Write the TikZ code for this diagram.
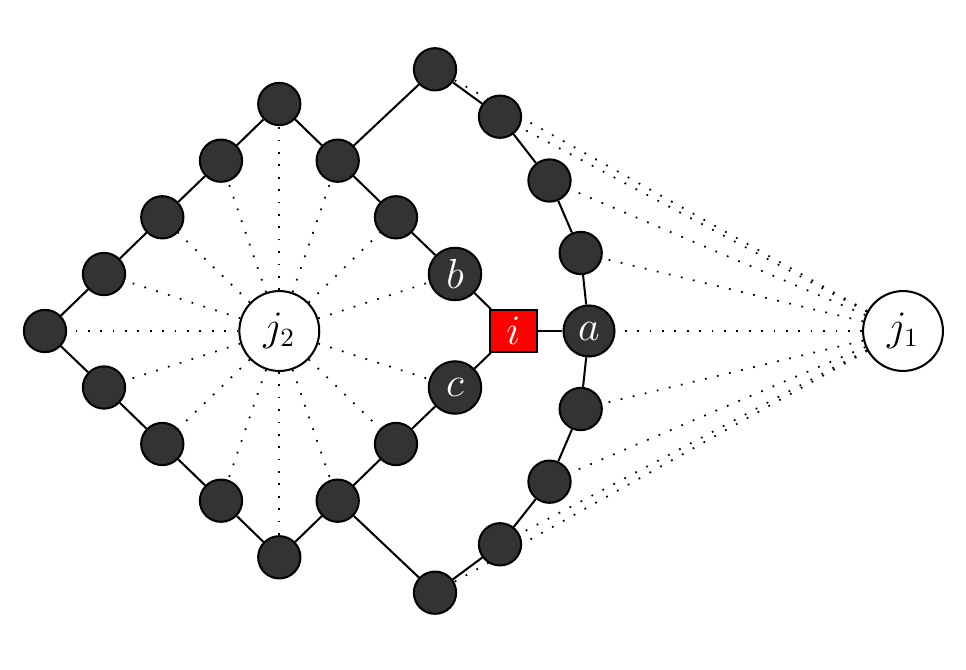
\documentclass[tikz,border=0pt]{standalone}
\usetikzlibrary{backgrounds}
\definecolor{nodegray}{HTML}{333333}
\begin{document}
\begin{tikzpicture}[x=0.343pt,y=-0.343pt,
  every node/.style={font=\fontsize{13.5}{15}\selectfont},
  edge/.style={line width=0.7pt},
  dotedge/.style={line width=0.6pt,dash pattern=on 0.6pt off 3.65pt},
  dot/.style={circle,draw=black,line width=0.7pt,fill=nodegray,minimum size=14.5pt,inner sep=0pt},
  lab/.style={circle,draw=black,line width=0.7pt,fill=nodegray,minimum size=18pt,inner sep=0pt,text=white},
  jnode/.style={circle,draw=black,line width=0.7pt,fill=white,minimum size=27.4pt,inner sep=0pt},
  sq/.style={rectangle,draw=black,line width=0.7pt,fill=red,minimum width=16pt,minimum height=14.3pt,inner sep=0pt,text=white}]
\useasboundingbox (0,0) rectangle (966,669);
% centres
\node[jnode] (j2) at (279.3,331) {$j_2$};
\node[jnode] (j1) at (903,331) {$j_1$};
\node[dot] (L0) at (45,331) {};
\node[dot] (U1) at (104,274) {};
\node[dot] (U2) at (162.3,217.3) {};
\node[dot] (U3) at (221,160.7) {};
\node[dot] (T) at (279.3,104) {};
\node[dot] (R1) at (337.7,160.7) {};
\node[dot] (R2) at (396,217.3) {};
\node[lab] (b) at (455,274) {$b$};
\node[dot] (D1) at (104,387.5) {};
\node[dot] (D2) at (162.3,444) {};
\node[dot] (D3) at (221,500.7) {};
\node[dot] (B) at (279.3,557.3) {};
\node[dot] (S1) at (337.7,500.7) {};
\node[dot] (S2) at (396,444) {};
\node[lab] (c) at (455,387.5) {$c$};
\node[sq] (i) at (513.3,331) {$i$};
\node[lab,minimum size=17.5pt] (a) at (589,331) {$a$};
\node[dot] (q1) at (580.7,253) {};
\node[dot] (q2) at (549.5,180.5) {};
\node[dot] (q3) at (500,116.7) {};
\node[dot] (q4) at (435,69.3) {};
\node[dot] (p1) at (580.7,409) {};
\node[dot] (p2) at (549.5,481.7) {};
\node[dot] (p3) at (500,544.3) {};
\node[dot] (p4) at (435,592.7) {};
\begin{pgfonlayer}{background}
  % dotted links to j2
  \foreach \n in {L0,U1,U2,U3,T,R1,R2,b,c,S2,S1,B,D3,D2,D1}
    \draw[dotedge] (j2) -- (\n);
  % dotted links to j1
  \foreach \n in {q4,q3,q2,q1,a,p1,p2,p3,p4}
    \draw[dotedge] (j1) -- (\n);
  % solid edges
  \draw[edge] (L0) -- (U1) -- (U2) -- (U3) -- (T) -- (R1) -- (R2) -- (b) -- (i);
  \draw[edge] (L0) -- (D1) -- (D2) -- (D3) -- (B) -- (S1) -- (S2) -- (c) -- (i);
  \draw[edge] (i) -- (a);
  \draw[edge] (R1) -- (q4) -- (q3) -- (q2) -- (q1) -- (a);
  \draw[edge] (S1) -- (p4) -- (p3) -- (p2) -- (p1) -- (a);
\end{pgfonlayer}
\end{tikzpicture}
\end{document}
